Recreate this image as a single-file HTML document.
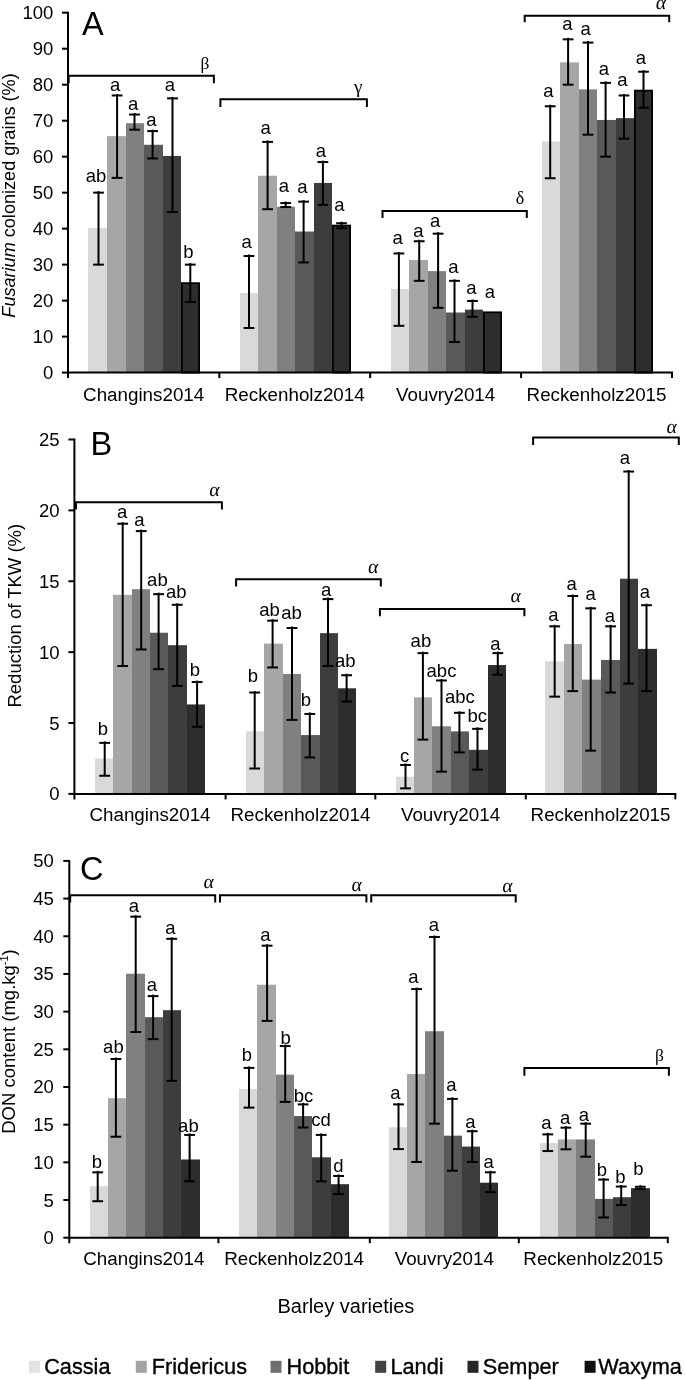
<!DOCTYPE html>
<html><head><meta charset="utf-8"><style>
html,body{margin:0;padding:0;background:#fff;}
svg{display:block;filter:grayscale(1);}
text{font-family:"Liberation Sans", sans-serif;fill:#000;}
</style></head><body>
<svg width="685" height="1380" viewBox="0 0 685 1380">
<rect width="685" height="1380" fill="#fff"/>
<rect x="88" y="227.92" width="19" height="144.68" fill="#d9d9d9"/>
<rect x="107" y="136.15" width="19" height="236.45" fill="#a6a6a6"/>
<rect x="126" y="123.19" width="18" height="249.41" fill="#808080"/>
<rect x="144" y="144.78" width="19" height="227.82" fill="#595959"/>
<rect x="163" y="155.94" width="18" height="216.66" fill="#3d3d3d"/>
<rect x="181.90" y="283.17" width="17.20" height="89.43" fill="#2d2d2d" stroke="#000" stroke-width="1.8"/>
<rect x="240" y="293.06" width="18" height="79.54" fill="#d9d9d9"/>
<rect x="258" y="175.73" width="19" height="196.87" fill="#a6a6a6"/>
<rect x="277" y="206.69" width="18" height="165.91" fill="#808080"/>
<rect x="295" y="231.52" width="19" height="141.08" fill="#595959"/>
<rect x="314" y="182.93" width="18" height="189.67" fill="#3d3d3d"/>
<rect x="332.90" y="225.58" width="17.20" height="147.02" fill="#2d2d2d" stroke="#000" stroke-width="1.8"/>
<rect x="391" y="289.10" width="18" height="83.50" fill="#d9d9d9"/>
<rect x="409" y="259.95" width="19" height="112.65" fill="#a6a6a6"/>
<rect x="428" y="271.11" width="18" height="101.49" fill="#808080"/>
<rect x="446" y="312.50" width="19" height="60.10" fill="#595959"/>
<rect x="465" y="309.62" width="18" height="62.98" fill="#3d3d3d"/>
<rect x="483.90" y="312.32" width="17.20" height="60.28" fill="#2d2d2d" stroke="#000" stroke-width="1.8"/>
<rect x="542" y="141.54" width="18" height="231.06" fill="#d9d9d9"/>
<rect x="560" y="62.37" width="19" height="310.23" fill="#a6a6a6"/>
<rect x="579" y="89.36" width="18" height="283.24" fill="#808080"/>
<rect x="597" y="119.95" width="19" height="252.65" fill="#595959"/>
<rect x="616" y="118.15" width="18" height="254.45" fill="#3d3d3d"/>
<rect x="634.90" y="90.62" width="17.20" height="281.98" fill="#2d2d2d" stroke="#000" stroke-width="1.8"/>
<line x1="98.50" y1="191.15" x2="98.50" y2="264.63" stroke="#000" stroke-width="2.0"/>
<line x1="93.10" y1="192.65" x2="103.90" y2="192.65" stroke="#000" stroke-width="2.0"/>
<line x1="93.10" y1="264.63" x2="103.90" y2="264.63" stroke="#000" stroke-width="2.0"/>
<line x1="117.10" y1="93.98" x2="117.10" y2="177.89" stroke="#000" stroke-width="2.0"/>
<line x1="111.70" y1="95.48" x2="122.50" y2="95.48" stroke="#000" stroke-width="2.0"/>
<line x1="111.70" y1="177.89" x2="122.50" y2="177.89" stroke="#000" stroke-width="2.0"/>
<line x1="134.50" y1="113.05" x2="134.50" y2="129.67" stroke="#000" stroke-width="2.0"/>
<line x1="129.10" y1="114.55" x2="139.90" y2="114.55" stroke="#000" stroke-width="2.0"/>
<line x1="129.10" y1="129.67" x2="139.90" y2="129.67" stroke="#000" stroke-width="2.0"/>
<line x1="152.60" y1="129.61" x2="152.60" y2="158.46" stroke="#000" stroke-width="2.0"/>
<line x1="147.20" y1="131.11" x2="158.00" y2="131.11" stroke="#000" stroke-width="2.0"/>
<line x1="147.20" y1="158.46" x2="158.00" y2="158.46" stroke="#000" stroke-width="2.0"/>
<line x1="172.50" y1="96.86" x2="172.50" y2="212.08" stroke="#000" stroke-width="2.0"/>
<line x1="167.10" y1="98.36" x2="177.90" y2="98.36" stroke="#000" stroke-width="2.0"/>
<line x1="167.10" y1="212.08" x2="177.90" y2="212.08" stroke="#000" stroke-width="2.0"/>
<line x1="190.30" y1="263.13" x2="190.30" y2="302.06" stroke="#000" stroke-width="2.0"/>
<line x1="184.90" y1="264.63" x2="195.70" y2="264.63" stroke="#000" stroke-width="2.0"/>
<line x1="184.90" y1="302.06" x2="195.70" y2="302.06" stroke="#000" stroke-width="2.0"/>
<line x1="249.00" y1="254.49" x2="249.00" y2="327.97" stroke="#000" stroke-width="2.0"/>
<line x1="243.60" y1="255.99" x2="254.40" y2="255.99" stroke="#000" stroke-width="2.0"/>
<line x1="243.60" y1="327.97" x2="254.40" y2="327.97" stroke="#000" stroke-width="2.0"/>
<line x1="267.60" y1="140.40" x2="267.60" y2="209.21" stroke="#000" stroke-width="2.0"/>
<line x1="262.20" y1="141.90" x2="273.00" y2="141.90" stroke="#000" stroke-width="2.0"/>
<line x1="262.20" y1="209.21" x2="273.00" y2="209.21" stroke="#000" stroke-width="2.0"/>
<line x1="285.70" y1="201.59" x2="285.70" y2="207.05" stroke="#000" stroke-width="2.0"/>
<line x1="280.30" y1="203.09" x2="291.10" y2="203.09" stroke="#000" stroke-width="2.0"/>
<line x1="280.30" y1="207.05" x2="291.10" y2="207.05" stroke="#000" stroke-width="2.0"/>
<line x1="303.60" y1="200.15" x2="303.60" y2="262.47" stroke="#000" stroke-width="2.0"/>
<line x1="298.20" y1="201.65" x2="309.00" y2="201.65" stroke="#000" stroke-width="2.0"/>
<line x1="298.20" y1="262.47" x2="309.00" y2="262.47" stroke="#000" stroke-width="2.0"/>
<line x1="322.90" y1="160.56" x2="322.90" y2="204.89" stroke="#000" stroke-width="2.0"/>
<line x1="317.50" y1="162.06" x2="328.30" y2="162.06" stroke="#000" stroke-width="2.0"/>
<line x1="317.50" y1="204.89" x2="328.30" y2="204.89" stroke="#000" stroke-width="2.0"/>
<line x1="341.50" y1="221.74" x2="341.50" y2="228.28" stroke="#000" stroke-width="2.0"/>
<line x1="336.10" y1="223.24" x2="346.90" y2="223.24" stroke="#000" stroke-width="2.0"/>
<line x1="336.10" y1="228.28" x2="346.90" y2="228.28" stroke="#000" stroke-width="2.0"/>
<line x1="398.90" y1="251.97" x2="398.90" y2="325.81" stroke="#000" stroke-width="2.0"/>
<line x1="393.50" y1="253.47" x2="404.30" y2="253.47" stroke="#000" stroke-width="2.0"/>
<line x1="393.50" y1="325.81" x2="404.30" y2="325.81" stroke="#000" stroke-width="2.0"/>
<line x1="419.20" y1="239.74" x2="419.20" y2="280.83" stroke="#000" stroke-width="2.0"/>
<line x1="413.80" y1="241.24" x2="424.60" y2="241.24" stroke="#000" stroke-width="2.0"/>
<line x1="413.80" y1="280.83" x2="424.60" y2="280.83" stroke="#000" stroke-width="2.0"/>
<line x1="438.10" y1="232.18" x2="438.10" y2="307.82" stroke="#000" stroke-width="2.0"/>
<line x1="432.70" y1="233.68" x2="443.50" y2="233.68" stroke="#000" stroke-width="2.0"/>
<line x1="432.70" y1="307.82" x2="443.50" y2="307.82" stroke="#000" stroke-width="2.0"/>
<line x1="454.50" y1="279.33" x2="454.50" y2="342.01" stroke="#000" stroke-width="2.0"/>
<line x1="449.10" y1="280.83" x2="459.90" y2="280.83" stroke="#000" stroke-width="2.0"/>
<line x1="449.10" y1="342.01" x2="459.90" y2="342.01" stroke="#000" stroke-width="2.0"/>
<line x1="472.50" y1="299.48" x2="472.50" y2="316.82" stroke="#000" stroke-width="2.0"/>
<line x1="467.10" y1="300.98" x2="477.90" y2="300.98" stroke="#000" stroke-width="2.0"/>
<line x1="467.10" y1="316.82" x2="477.90" y2="316.82" stroke="#000" stroke-width="2.0"/>
<line x1="550.20" y1="104.77" x2="550.20" y2="178.25" stroke="#000" stroke-width="2.0"/>
<line x1="544.80" y1="106.27" x2="555.60" y2="106.27" stroke="#000" stroke-width="2.0"/>
<line x1="544.80" y1="178.25" x2="555.60" y2="178.25" stroke="#000" stroke-width="2.0"/>
<line x1="568.10" y1="37.83" x2="568.10" y2="84.68" stroke="#000" stroke-width="2.0"/>
<line x1="562.70" y1="39.33" x2="573.50" y2="39.33" stroke="#000" stroke-width="2.0"/>
<line x1="562.70" y1="84.68" x2="573.50" y2="84.68" stroke="#000" stroke-width="2.0"/>
<line x1="588.00" y1="41.07" x2="588.00" y2="134.71" stroke="#000" stroke-width="2.0"/>
<line x1="582.60" y1="42.57" x2="593.40" y2="42.57" stroke="#000" stroke-width="2.0"/>
<line x1="582.60" y1="134.71" x2="593.40" y2="134.71" stroke="#000" stroke-width="2.0"/>
<line x1="605.60" y1="81.38" x2="605.60" y2="156.66" stroke="#000" stroke-width="2.0"/>
<line x1="600.20" y1="82.88" x2="611.00" y2="82.88" stroke="#000" stroke-width="2.0"/>
<line x1="600.20" y1="156.66" x2="611.00" y2="156.66" stroke="#000" stroke-width="2.0"/>
<line x1="624.00" y1="93.98" x2="624.00" y2="138.67" stroke="#000" stroke-width="2.0"/>
<line x1="618.60" y1="95.48" x2="629.40" y2="95.48" stroke="#000" stroke-width="2.0"/>
<line x1="618.60" y1="138.67" x2="629.40" y2="138.67" stroke="#000" stroke-width="2.0"/>
<line x1="643.50" y1="70.22" x2="643.50" y2="107.71" stroke="#000" stroke-width="2.0"/>
<line x1="638.10" y1="71.72" x2="648.90" y2="71.72" stroke="#000" stroke-width="2.0"/>
<line x1="638.10" y1="107.71" x2="648.90" y2="107.71" stroke="#000" stroke-width="2.0"/>
<text x="96.00" y="182.00" font-size="18.5" text-anchor="middle" >ab</text>
<text x="115.10" y="90.80" font-size="18.5" text-anchor="middle" >a</text>
<text x="133.20" y="109.50" font-size="18.5" text-anchor="middle" >a</text>
<text x="151.30" y="125.60" font-size="18.5" text-anchor="middle" >a</text>
<text x="170.00" y="90.80" font-size="18.5" text-anchor="middle" >a</text>
<text x="188.40" y="257.80" font-size="18.5" text-anchor="middle" >b</text>
<text x="246.70" y="248.00" font-size="18.5" text-anchor="middle" >a</text>
<text x="265.60" y="134.40" font-size="18.5" text-anchor="middle" >a</text>
<text x="284.00" y="192.00" font-size="18.5" text-anchor="middle" >a</text>
<text x="302.30" y="193.30" font-size="18.5" text-anchor="middle" >a</text>
<text x="320.90" y="156.80" font-size="18.5" text-anchor="middle" >a</text>
<text x="339.30" y="211.40" font-size="18.5" text-anchor="middle" >a</text>
<text x="397.70" y="243.70" font-size="18.5" text-anchor="middle" >a</text>
<text x="418.30" y="237.40" font-size="18.5" text-anchor="middle" >a</text>
<text x="435.10" y="227.40" font-size="18.5" text-anchor="middle" >a</text>
<text x="453.30" y="272.90" font-size="18.5" text-anchor="middle" >a</text>
<text x="471.30" y="294.40" font-size="18.5" text-anchor="middle" >a</text>
<text x="490.00" y="297.90" font-size="18.5" text-anchor="middle" >a</text>
<text x="548.40" y="97.30" font-size="18.5" text-anchor="middle" >a</text>
<text x="567.30" y="30.30" font-size="18.5" text-anchor="middle" >a</text>
<text x="585.70" y="35.00" font-size="18.5" text-anchor="middle" >a</text>
<text x="604.00" y="75.20" font-size="18.5" text-anchor="middle" >a</text>
<text x="622.40" y="86.30" font-size="18.5" text-anchor="middle" >a</text>
<text x="640.80" y="63.90" font-size="18.5" text-anchor="middle" >a</text>
<line x1="68.00" y1="11.70" x2="68.00" y2="378.10" stroke="#000" stroke-width="2.0"/>
<line x1="67.00" y1="372.60" x2="673.00" y2="372.60" stroke="#000" stroke-width="2.0"/>
<line x1="219.30" y1="372.60" x2="219.30" y2="378.10" stroke="#000" stroke-width="2.0"/>
<line x1="370.20" y1="372.60" x2="370.20" y2="378.10" stroke="#000" stroke-width="2.0"/>
<line x1="521.10" y1="372.60" x2="521.10" y2="378.10" stroke="#000" stroke-width="2.0"/>
<line x1="672.00" y1="372.60" x2="672.00" y2="378.10" stroke="#000" stroke-width="2.0"/>
<line x1="62.00" y1="372.60" x2="68.00" y2="372.60" stroke="#000" stroke-width="2.0"/>
<text x="53.30" y="379.10" font-size="18.5" text-anchor="end" >0</text>
<line x1="62.00" y1="336.61" x2="68.00" y2="336.61" stroke="#000" stroke-width="2.0"/>
<text x="53.30" y="343.11" font-size="18.5" text-anchor="end" >10</text>
<line x1="62.00" y1="300.62" x2="68.00" y2="300.62" stroke="#000" stroke-width="2.0"/>
<text x="53.30" y="307.12" font-size="18.5" text-anchor="end" >20</text>
<line x1="62.00" y1="264.63" x2="68.00" y2="264.63" stroke="#000" stroke-width="2.0"/>
<text x="53.30" y="271.13" font-size="18.5" text-anchor="end" >30</text>
<line x1="62.00" y1="228.64" x2="68.00" y2="228.64" stroke="#000" stroke-width="2.0"/>
<text x="53.30" y="235.14" font-size="18.5" text-anchor="end" >40</text>
<line x1="62.00" y1="192.65" x2="68.00" y2="192.65" stroke="#000" stroke-width="2.0"/>
<text x="53.30" y="199.15" font-size="18.5" text-anchor="end" >50</text>
<line x1="62.00" y1="156.66" x2="68.00" y2="156.66" stroke="#000" stroke-width="2.0"/>
<text x="53.30" y="163.16" font-size="18.5" text-anchor="end" >60</text>
<line x1="62.00" y1="120.67" x2="68.00" y2="120.67" stroke="#000" stroke-width="2.0"/>
<text x="53.30" y="127.17" font-size="18.5" text-anchor="end" >70</text>
<line x1="62.00" y1="84.68" x2="68.00" y2="84.68" stroke="#000" stroke-width="2.0"/>
<text x="53.30" y="91.18" font-size="18.5" text-anchor="end" >80</text>
<line x1="62.00" y1="48.69" x2="68.00" y2="48.69" stroke="#000" stroke-width="2.0"/>
<text x="53.30" y="55.19" font-size="18.5" text-anchor="end" >90</text>
<line x1="62.00" y1="12.70" x2="68.00" y2="12.70" stroke="#000" stroke-width="2.0"/>
<text x="53.30" y="19.20" font-size="18.5" text-anchor="end" >100</text>
<text x="143.65" y="400.80" font-size="18.8" text-anchor="middle" >Changins2014</text>
<text x="294.75" y="400.80" font-size="18.8" text-anchor="middle" >Reckenholz2014</text>
<text x="445.65" y="400.80" font-size="18.8" text-anchor="middle" >Vouvry2014</text>
<text x="596.55" y="400.80" font-size="18.8" text-anchor="middle" >Reckenholz2015</text>
<path d="M68.70,83.30 V75.80 H213.90 V83.30" fill="none" stroke="#000" stroke-width="2"/>
<g transform="translate(205.00,69.00) skewX(0)"><text x="0" y="0" font-size="17.5" text-anchor="middle" style='font-family:"Liberation Serif", serif'>β</text></g>
<path d="M220.40,107.00 V99.20 H366.90 V107.00" fill="none" stroke="#000" stroke-width="2"/>
<g transform="translate(358.20,93.40) skewX(0)"><text x="0" y="0" font-size="19" text-anchor="middle" style='font-family:"Liberation Serif", serif'>γ</text></g>
<path d="M382.50,218.10 V210.90 H526.80 V218.10" fill="none" stroke="#000" stroke-width="2"/>
<g transform="translate(520.10,204.20) skewX(0)"><text x="0" y="0" font-size="18" text-anchor="middle" style='font-family:"Liberation Serif", serif'>δ</text></g>
<path d="M524.70,22.30 V15.80 H669.20 V22.30" fill="none" stroke="#000" stroke-width="2"/>
<g transform="translate(660.40,9.00) skewX(-7)"><text x="0" y="0" font-size="19.5" text-anchor="middle" style='font-family:"Liberation Serif", serif'>α</text></g>
<text x="82.00" y="35.00" font-size="32.5" text-anchor="start" >A</text>
<rect x="95" y="758.60" width="18" height="35.30" fill="#d9d9d9"/>
<rect x="113" y="594.87" width="19" height="199.03" fill="#a6a6a6"/>
<rect x="132" y="589.20" width="18" height="204.70" fill="#808080"/>
<rect x="150" y="632.72" width="18" height="161.18" fill="#595959"/>
<rect x="168" y="645.19" width="19" height="148.71" fill="#3d3d3d"/>
<rect x="187" y="704.45" width="18" height="89.45" fill="#2d2d2d"/>
<rect x="246" y="731.24" width="18" height="62.66" fill="#d9d9d9"/>
<rect x="264" y="643.63" width="19" height="150.27" fill="#a6a6a6"/>
<rect x="283" y="673.97" width="18" height="119.93" fill="#808080"/>
<rect x="301" y="735.07" width="19" height="58.83" fill="#595959"/>
<rect x="320" y="633.14" width="18" height="160.76" fill="#3d3d3d"/>
<rect x="338" y="688.29" width="18" height="105.61" fill="#2d2d2d"/>
<rect x="396" y="776.75" width="18" height="17.15" fill="#d9d9d9"/>
<rect x="414" y="697.36" width="18" height="96.54" fill="#a6a6a6"/>
<rect x="432" y="726.28" width="19" height="67.62" fill="#808080"/>
<rect x="451" y="731.38" width="18" height="62.52" fill="#595959"/>
<rect x="469" y="749.81" width="19" height="44.09" fill="#3d3d3d"/>
<rect x="488" y="665.04" width="18" height="128.86" fill="#2d2d2d"/>
<rect x="545" y="661.35" width="19" height="132.55" fill="#d9d9d9"/>
<rect x="564" y="643.92" width="18" height="149.98" fill="#a6a6a6"/>
<rect x="582" y="679.64" width="19" height="114.26" fill="#808080"/>
<rect x="601" y="659.94" width="19" height="133.96" fill="#595959"/>
<rect x="620" y="578.71" width="18" height="215.19" fill="#3d3d3d"/>
<rect x="638" y="648.88" width="19" height="145.02" fill="#2d2d2d"/>
<line x1="104.70" y1="741.37" x2="104.70" y2="775.75" stroke="#000" stroke-width="2.0"/>
<line x1="99.30" y1="742.87" x2="110.10" y2="742.87" stroke="#000" stroke-width="2.0"/>
<line x1="99.30" y1="775.75" x2="110.10" y2="775.75" stroke="#000" stroke-width="2.0"/>
<line x1="122.70" y1="522.21" x2="122.70" y2="666.03" stroke="#000" stroke-width="2.0"/>
<line x1="117.30" y1="523.71" x2="128.10" y2="523.71" stroke="#000" stroke-width="2.0"/>
<line x1="117.30" y1="666.03" x2="128.10" y2="666.03" stroke="#000" stroke-width="2.0"/>
<line x1="141.20" y1="529.58" x2="141.20" y2="649.45" stroke="#000" stroke-width="2.0"/>
<line x1="135.80" y1="531.08" x2="146.60" y2="531.08" stroke="#000" stroke-width="2.0"/>
<line x1="135.80" y1="649.45" x2="146.60" y2="649.45" stroke="#000" stroke-width="2.0"/>
<line x1="158.60" y1="592.66" x2="158.60" y2="669.15" stroke="#000" stroke-width="2.0"/>
<line x1="153.20" y1="594.16" x2="164.00" y2="594.16" stroke="#000" stroke-width="2.0"/>
<line x1="153.20" y1="669.15" x2="164.00" y2="669.15" stroke="#000" stroke-width="2.0"/>
<line x1="177.20" y1="603.29" x2="177.20" y2="685.88" stroke="#000" stroke-width="2.0"/>
<line x1="171.80" y1="604.79" x2="182.60" y2="604.79" stroke="#000" stroke-width="2.0"/>
<line x1="171.80" y1="685.88" x2="182.60" y2="685.88" stroke="#000" stroke-width="2.0"/>
<line x1="197.10" y1="680.55" x2="197.10" y2="726.85" stroke="#000" stroke-width="2.0"/>
<line x1="191.70" y1="682.05" x2="202.50" y2="682.05" stroke="#000" stroke-width="2.0"/>
<line x1="191.70" y1="726.85" x2="202.50" y2="726.85" stroke="#000" stroke-width="2.0"/>
<line x1="254.70" y1="691.04" x2="254.70" y2="768.52" stroke="#000" stroke-width="2.0"/>
<line x1="249.30" y1="692.54" x2="260.10" y2="692.54" stroke="#000" stroke-width="2.0"/>
<line x1="249.30" y1="768.52" x2="260.10" y2="768.52" stroke="#000" stroke-width="2.0"/>
<line x1="272.60" y1="619.17" x2="272.60" y2="667.45" stroke="#000" stroke-width="2.0"/>
<line x1="267.20" y1="620.67" x2="278.00" y2="620.67" stroke="#000" stroke-width="2.0"/>
<line x1="267.20" y1="667.45" x2="278.00" y2="667.45" stroke="#000" stroke-width="2.0"/>
<line x1="292.00" y1="626.54" x2="292.00" y2="719.90" stroke="#000" stroke-width="2.0"/>
<line x1="286.60" y1="628.04" x2="297.40" y2="628.04" stroke="#000" stroke-width="2.0"/>
<line x1="286.60" y1="719.90" x2="297.40" y2="719.90" stroke="#000" stroke-width="2.0"/>
<line x1="309.80" y1="712.45" x2="309.80" y2="757.47" stroke="#000" stroke-width="2.0"/>
<line x1="304.40" y1="713.95" x2="315.20" y2="713.95" stroke="#000" stroke-width="2.0"/>
<line x1="304.40" y1="757.47" x2="315.20" y2="757.47" stroke="#000" stroke-width="2.0"/>
<line x1="328.00" y1="597.62" x2="328.00" y2="666.03" stroke="#000" stroke-width="2.0"/>
<line x1="322.60" y1="599.12" x2="333.40" y2="599.12" stroke="#000" stroke-width="2.0"/>
<line x1="322.60" y1="666.03" x2="333.40" y2="666.03" stroke="#000" stroke-width="2.0"/>
<line x1="346.60" y1="673.75" x2="346.60" y2="701.61" stroke="#000" stroke-width="2.0"/>
<line x1="341.20" y1="675.25" x2="352.00" y2="675.25" stroke="#000" stroke-width="2.0"/>
<line x1="341.20" y1="701.61" x2="352.00" y2="701.61" stroke="#000" stroke-width="2.0"/>
<line x1="405.50" y1="763.48" x2="405.50" y2="788.37" stroke="#000" stroke-width="2.0"/>
<line x1="400.10" y1="764.98" x2="410.90" y2="764.98" stroke="#000" stroke-width="2.0"/>
<line x1="400.10" y1="788.37" x2="410.90" y2="788.37" stroke="#000" stroke-width="2.0"/>
<line x1="422.90" y1="651.63" x2="422.90" y2="739.61" stroke="#000" stroke-width="2.0"/>
<line x1="417.50" y1="653.13" x2="428.30" y2="653.13" stroke="#000" stroke-width="2.0"/>
<line x1="417.50" y1="739.61" x2="428.30" y2="739.61" stroke="#000" stroke-width="2.0"/>
<line x1="441.50" y1="678.99" x2="441.50" y2="771.64" stroke="#000" stroke-width="2.0"/>
<line x1="436.10" y1="680.49" x2="446.90" y2="680.49" stroke="#000" stroke-width="2.0"/>
<line x1="436.10" y1="771.64" x2="446.90" y2="771.64" stroke="#000" stroke-width="2.0"/>
<line x1="459.40" y1="711.31" x2="459.40" y2="752.36" stroke="#000" stroke-width="2.0"/>
<line x1="454.00" y1="712.81" x2="464.80" y2="712.81" stroke="#000" stroke-width="2.0"/>
<line x1="454.00" y1="752.36" x2="464.80" y2="752.36" stroke="#000" stroke-width="2.0"/>
<line x1="477.50" y1="727.33" x2="477.50" y2="769.66" stroke="#000" stroke-width="2.0"/>
<line x1="472.10" y1="728.83" x2="482.90" y2="728.83" stroke="#000" stroke-width="2.0"/>
<line x1="472.10" y1="769.66" x2="482.90" y2="769.66" stroke="#000" stroke-width="2.0"/>
<line x1="497.80" y1="651.63" x2="497.80" y2="674.68" stroke="#000" stroke-width="2.0"/>
<line x1="492.40" y1="653.13" x2="503.20" y2="653.13" stroke="#000" stroke-width="2.0"/>
<line x1="492.40" y1="674.68" x2="503.20" y2="674.68" stroke="#000" stroke-width="2.0"/>
<line x1="554.70" y1="624.84" x2="554.70" y2="696.65" stroke="#000" stroke-width="2.0"/>
<line x1="549.30" y1="626.34" x2="560.10" y2="626.34" stroke="#000" stroke-width="2.0"/>
<line x1="549.30" y1="696.65" x2="560.10" y2="696.65" stroke="#000" stroke-width="2.0"/>
<line x1="572.80" y1="594.50" x2="572.80" y2="691.12" stroke="#000" stroke-width="2.0"/>
<line x1="567.40" y1="596.00" x2="578.20" y2="596.00" stroke="#000" stroke-width="2.0"/>
<line x1="567.40" y1="691.12" x2="578.20" y2="691.12" stroke="#000" stroke-width="2.0"/>
<line x1="590.70" y1="606.84" x2="590.70" y2="750.66" stroke="#000" stroke-width="2.0"/>
<line x1="585.30" y1="608.34" x2="596.10" y2="608.34" stroke="#000" stroke-width="2.0"/>
<line x1="585.30" y1="750.66" x2="596.10" y2="750.66" stroke="#000" stroke-width="2.0"/>
<line x1="610.60" y1="624.84" x2="610.60" y2="692.54" stroke="#000" stroke-width="2.0"/>
<line x1="605.20" y1="626.34" x2="616.00" y2="626.34" stroke="#000" stroke-width="2.0"/>
<line x1="605.20" y1="692.54" x2="616.00" y2="692.54" stroke="#000" stroke-width="2.0"/>
<line x1="628.70" y1="470.04" x2="628.70" y2="683.61" stroke="#000" stroke-width="2.0"/>
<line x1="623.30" y1="471.54" x2="634.10" y2="471.54" stroke="#000" stroke-width="2.0"/>
<line x1="623.30" y1="683.61" x2="634.10" y2="683.61" stroke="#000" stroke-width="2.0"/>
<line x1="646.50" y1="603.72" x2="646.50" y2="691.12" stroke="#000" stroke-width="2.0"/>
<line x1="641.10" y1="605.22" x2="651.90" y2="605.22" stroke="#000" stroke-width="2.0"/>
<line x1="641.10" y1="691.12" x2="651.90" y2="691.12" stroke="#000" stroke-width="2.0"/>
<text x="103.00" y="734.60" font-size="18.5" text-anchor="middle" >b</text>
<text x="122.10" y="518.30" font-size="18.5" text-anchor="middle" >a</text>
<text x="139.50" y="525.80" font-size="18.5" text-anchor="middle" >a</text>
<text x="157.40" y="585.80" font-size="18.5" text-anchor="middle" >ab</text>
<text x="176.20" y="597.50" font-size="18.5" text-anchor="middle" >ab</text>
<text x="194.80" y="676.30" font-size="18.5" text-anchor="middle" >b</text>
<text x="253.00" y="682.30" font-size="18.5" text-anchor="middle" >b</text>
<text x="269.60" y="616.00" font-size="18.5" text-anchor="middle" >ab</text>
<text x="291.50" y="618.50" font-size="18.5" text-anchor="middle" >ab</text>
<text x="306.00" y="706.40" font-size="18.5" text-anchor="middle" >b</text>
<text x="326.20" y="595.70" font-size="18.5" text-anchor="middle" >a</text>
<text x="345.30" y="666.90" font-size="18.5" text-anchor="middle" >ab</text>
<text x="404.70" y="762.30" font-size="18.5" text-anchor="middle" >c</text>
<text x="420.90" y="647.30" font-size="18.5" text-anchor="middle" >ab</text>
<text x="441.50" y="676.60" font-size="18.5" text-anchor="middle" >abc</text>
<text x="459.80" y="703.20" font-size="18.5" text-anchor="middle" >abc</text>
<text x="477.20" y="721.80" font-size="18.5" text-anchor="middle" >bc</text>
<text x="495.30" y="649.80" font-size="18.5" text-anchor="middle" >a</text>
<text x="553.50" y="620.60" font-size="18.5" text-anchor="middle" >a</text>
<text x="571.60" y="589.60" font-size="18.5" text-anchor="middle" >a</text>
<text x="590.70" y="599.50" font-size="18.5" text-anchor="middle" >a</text>
<text x="609.80" y="622.40" font-size="18.5" text-anchor="middle" >a</text>
<text x="625.00" y="463.80" font-size="18.5" text-anchor="middle" >a</text>
<text x="644.80" y="598.30" font-size="18.5" text-anchor="middle" >a</text>
<line x1="74.40" y1="438.50" x2="74.40" y2="799.40" stroke="#000" stroke-width="2.0"/>
<line x1="73.40" y1="793.90" x2="676.30" y2="793.90" stroke="#000" stroke-width="2.0"/>
<line x1="225.60" y1="793.90" x2="225.60" y2="799.40" stroke="#000" stroke-width="2.0"/>
<line x1="375.30" y1="793.90" x2="375.30" y2="799.40" stroke="#000" stroke-width="2.0"/>
<line x1="525.80" y1="793.90" x2="525.80" y2="799.40" stroke="#000" stroke-width="2.0"/>
<line x1="675.30" y1="793.90" x2="675.30" y2="799.40" stroke="#000" stroke-width="2.0"/>
<line x1="68.40" y1="793.90" x2="74.40" y2="793.90" stroke="#000" stroke-width="2.0"/>
<text x="59.60" y="800.40" font-size="18.5" text-anchor="end" >0</text>
<line x1="68.40" y1="723.02" x2="74.40" y2="723.02" stroke="#000" stroke-width="2.0"/>
<text x="59.60" y="729.52" font-size="18.5" text-anchor="end" >5</text>
<line x1="68.40" y1="652.14" x2="74.40" y2="652.14" stroke="#000" stroke-width="2.0"/>
<text x="59.60" y="658.64" font-size="18.5" text-anchor="end" >10</text>
<line x1="68.40" y1="581.26" x2="74.40" y2="581.26" stroke="#000" stroke-width="2.0"/>
<text x="59.60" y="587.76" font-size="18.5" text-anchor="end" >15</text>
<line x1="68.40" y1="510.38" x2="74.40" y2="510.38" stroke="#000" stroke-width="2.0"/>
<text x="59.60" y="516.88" font-size="18.5" text-anchor="end" >20</text>
<line x1="68.40" y1="439.50" x2="74.40" y2="439.50" stroke="#000" stroke-width="2.0"/>
<text x="59.60" y="446.00" font-size="18.5" text-anchor="end" >25</text>
<text x="150.00" y="821.00" font-size="18.8" text-anchor="middle" >Changins2014</text>
<text x="300.45" y="821.00" font-size="18.8" text-anchor="middle" >Reckenholz2014</text>
<text x="450.55" y="821.00" font-size="18.8" text-anchor="middle" >Vouvry2014</text>
<text x="600.55" y="821.00" font-size="18.8" text-anchor="middle" >Reckenholz2015</text>
<path d="M76.00,509.50 V502.30 H221.90 V509.50" fill="none" stroke="#000" stroke-width="2"/>
<g transform="translate(213.90,495.70) skewX(-7)"><text x="0" y="0" font-size="19.5" text-anchor="middle" style='font-family:"Liberation Serif", serif'>α</text></g>
<path d="M236.10,586.40 V579.20 H380.80 V586.40" fill="none" stroke="#000" stroke-width="2"/>
<g transform="translate(372.60,573.00) skewX(-7)"><text x="0" y="0" font-size="19.5" text-anchor="middle" style='font-family:"Liberation Serif", serif'>α</text></g>
<path d="M379.90,616.20 V609.00 H524.40 V616.20" fill="none" stroke="#000" stroke-width="2"/>
<g transform="translate(515.10,602.40) skewX(-7)"><text x="0" y="0" font-size="19.5" text-anchor="middle" style='font-family:"Liberation Serif", serif'>α</text></g>
<path d="M533.10,445.10 V437.40 H678.80 V445.10" fill="none" stroke="#000" stroke-width="2"/>
<g transform="translate(671.10,433.20) skewX(-7)"><text x="0" y="0" font-size="19.5" text-anchor="middle" style='font-family:"Liberation Serif", serif'>α</text></g>
<text x="90.50" y="454.60" font-size="32.5" text-anchor="start" >B</text>
<rect x="90" y="1186.08" width="18" height="51.62" fill="#d9d9d9"/>
<rect x="108" y="1098.21" width="18" height="139.49" fill="#a6a6a6"/>
<rect x="126" y="973.71" width="19" height="263.99" fill="#808080"/>
<rect x="145" y="1017.20" width="18" height="220.50" fill="#595959"/>
<rect x="163" y="1010.19" width="18" height="227.51" fill="#3d3d3d"/>
<rect x="181" y="1159.48" width="19" height="78.22" fill="#2d2d2d"/>
<rect x="239" y="1089.01" width="18" height="148.69" fill="#d9d9d9"/>
<rect x="257" y="984.72" width="19" height="252.98" fill="#a6a6a6"/>
<rect x="276" y="1074.62" width="18" height="163.08" fill="#808080"/>
<rect x="294" y="1116.07" width="18" height="121.63" fill="#595959"/>
<rect x="312" y="1157.29" width="19" height="80.41" fill="#3d3d3d"/>
<rect x="331" y="1184.19" width="18" height="53.51" fill="#2d2d2d"/>
<rect x="389" y="1127.22" width="18" height="110.48" fill="#d9d9d9"/>
<rect x="407" y="1074.09" width="18" height="163.61" fill="#a6a6a6"/>
<rect x="425" y="1031.21" width="19" height="206.49" fill="#808080"/>
<rect x="444" y="1135.66" width="18" height="102.04" fill="#595959"/>
<rect x="462" y="1146.59" width="18" height="91.11" fill="#3d3d3d"/>
<rect x="480" y="1182.69" width="18" height="55.01" fill="#2d2d2d"/>
<rect x="540" y="1143.12" width="18" height="94.58" fill="#d9d9d9"/>
<rect x="558" y="1139.43" width="18" height="98.27" fill="#a6a6a6"/>
<rect x="576" y="1139.43" width="19" height="98.27" fill="#808080"/>
<rect x="595" y="1198.89" width="18" height="38.81" fill="#595959"/>
<rect x="613" y="1197.23" width="18" height="40.47" fill="#3d3d3d"/>
<rect x="631" y="1188.19" width="19" height="49.51" fill="#2d2d2d"/>
<line x1="97.70" y1="1170.86" x2="97.70" y2="1201.23" stroke="#000" stroke-width="2.0"/>
<line x1="92.30" y1="1172.36" x2="103.10" y2="1172.36" stroke="#000" stroke-width="2.0"/>
<line x1="92.30" y1="1201.23" x2="103.10" y2="1201.23" stroke="#000" stroke-width="2.0"/>
<line x1="115.90" y1="1057.52" x2="115.90" y2="1136.72" stroke="#000" stroke-width="2.0"/>
<line x1="110.50" y1="1059.02" x2="121.30" y2="1059.02" stroke="#000" stroke-width="2.0"/>
<line x1="110.50" y1="1136.72" x2="121.30" y2="1136.72" stroke="#000" stroke-width="2.0"/>
<line x1="135.70" y1="915.17" x2="135.70" y2="1031.97" stroke="#000" stroke-width="2.0"/>
<line x1="130.30" y1="916.67" x2="141.10" y2="916.67" stroke="#000" stroke-width="2.0"/>
<line x1="130.30" y1="1031.97" x2="141.10" y2="1031.97" stroke="#000" stroke-width="2.0"/>
<line x1="153.10" y1="994.60" x2="153.10" y2="1039.13" stroke="#000" stroke-width="2.0"/>
<line x1="147.70" y1="996.10" x2="158.50" y2="996.10" stroke="#000" stroke-width="2.0"/>
<line x1="147.70" y1="1039.13" x2="158.50" y2="1039.13" stroke="#000" stroke-width="2.0"/>
<line x1="171.70" y1="937.32" x2="171.70" y2="1080.80" stroke="#000" stroke-width="2.0"/>
<line x1="166.30" y1="938.82" x2="177.10" y2="938.82" stroke="#000" stroke-width="2.0"/>
<line x1="166.30" y1="1080.80" x2="177.10" y2="1080.80" stroke="#000" stroke-width="2.0"/>
<line x1="189.60" y1="1133.41" x2="189.60" y2="1181.33" stroke="#000" stroke-width="2.0"/>
<line x1="184.20" y1="1134.91" x2="195.00" y2="1134.91" stroke="#000" stroke-width="2.0"/>
<line x1="184.20" y1="1181.33" x2="195.00" y2="1181.33" stroke="#000" stroke-width="2.0"/>
<line x1="249.00" y1="1066.41" x2="249.00" y2="1107.63" stroke="#000" stroke-width="2.0"/>
<line x1="243.60" y1="1067.91" x2="254.40" y2="1067.91" stroke="#000" stroke-width="2.0"/>
<line x1="243.60" y1="1107.63" x2="254.40" y2="1107.63" stroke="#000" stroke-width="2.0"/>
<line x1="267.10" y1="944.18" x2="267.10" y2="1020.89" stroke="#000" stroke-width="2.0"/>
<line x1="261.70" y1="945.68" x2="272.50" y2="945.68" stroke="#000" stroke-width="2.0"/>
<line x1="261.70" y1="1020.89" x2="272.50" y2="1020.89" stroke="#000" stroke-width="2.0"/>
<line x1="285.20" y1="1044.56" x2="285.20" y2="1101.90" stroke="#000" stroke-width="2.0"/>
<line x1="279.80" y1="1046.06" x2="290.60" y2="1046.06" stroke="#000" stroke-width="2.0"/>
<line x1="279.80" y1="1101.90" x2="290.60" y2="1101.90" stroke="#000" stroke-width="2.0"/>
<line x1="303.10" y1="1102.89" x2="303.10" y2="1127.52" stroke="#000" stroke-width="2.0"/>
<line x1="297.70" y1="1104.39" x2="308.50" y2="1104.39" stroke="#000" stroke-width="2.0"/>
<line x1="297.70" y1="1127.52" x2="308.50" y2="1127.52" stroke="#000" stroke-width="2.0"/>
<line x1="321.20" y1="1133.41" x2="321.20" y2="1181.33" stroke="#000" stroke-width="2.0"/>
<line x1="315.80" y1="1134.91" x2="326.60" y2="1134.91" stroke="#000" stroke-width="2.0"/>
<line x1="315.80" y1="1181.33" x2="326.60" y2="1181.33" stroke="#000" stroke-width="2.0"/>
<line x1="338.60" y1="1174.48" x2="338.60" y2="1194.07" stroke="#000" stroke-width="2.0"/>
<line x1="333.20" y1="1175.98" x2="344.00" y2="1175.98" stroke="#000" stroke-width="2.0"/>
<line x1="333.20" y1="1194.07" x2="344.00" y2="1194.07" stroke="#000" stroke-width="2.0"/>
<line x1="398.50" y1="1102.89" x2="398.50" y2="1149.08" stroke="#000" stroke-width="2.0"/>
<line x1="393.10" y1="1104.39" x2="403.90" y2="1104.39" stroke="#000" stroke-width="2.0"/>
<line x1="393.10" y1="1149.08" x2="403.90" y2="1149.08" stroke="#000" stroke-width="2.0"/>
<line x1="416.60" y1="987.59" x2="416.60" y2="1161.96" stroke="#000" stroke-width="2.0"/>
<line x1="411.20" y1="989.09" x2="422.00" y2="989.09" stroke="#000" stroke-width="2.0"/>
<line x1="411.20" y1="1161.96" x2="422.00" y2="1161.96" stroke="#000" stroke-width="2.0"/>
<line x1="434.50" y1="935.51" x2="434.50" y2="1123.68" stroke="#000" stroke-width="2.0"/>
<line x1="429.10" y1="937.01" x2="439.90" y2="937.01" stroke="#000" stroke-width="2.0"/>
<line x1="429.10" y1="1123.68" x2="439.90" y2="1123.68" stroke="#000" stroke-width="2.0"/>
<line x1="452.40" y1="1097.39" x2="452.40" y2="1170.70" stroke="#000" stroke-width="2.0"/>
<line x1="447.00" y1="1098.89" x2="457.80" y2="1098.89" stroke="#000" stroke-width="2.0"/>
<line x1="447.00" y1="1170.70" x2="457.80" y2="1170.70" stroke="#000" stroke-width="2.0"/>
<line x1="472.20" y1="1129.72" x2="472.20" y2="1161.96" stroke="#000" stroke-width="2.0"/>
<line x1="466.80" y1="1131.22" x2="477.60" y2="1131.22" stroke="#000" stroke-width="2.0"/>
<line x1="466.80" y1="1161.96" x2="477.60" y2="1161.96" stroke="#000" stroke-width="2.0"/>
<line x1="490.30" y1="1170.79" x2="490.30" y2="1192.11" stroke="#000" stroke-width="2.0"/>
<line x1="484.90" y1="1172.29" x2="495.70" y2="1172.29" stroke="#000" stroke-width="2.0"/>
<line x1="484.90" y1="1192.11" x2="495.70" y2="1192.11" stroke="#000" stroke-width="2.0"/>
<line x1="547.80" y1="1132.88" x2="547.80" y2="1151.04" stroke="#000" stroke-width="2.0"/>
<line x1="542.40" y1="1134.38" x2="553.20" y2="1134.38" stroke="#000" stroke-width="2.0"/>
<line x1="542.40" y1="1151.04" x2="553.20" y2="1151.04" stroke="#000" stroke-width="2.0"/>
<line x1="565.90" y1="1126.17" x2="565.90" y2="1149.30" stroke="#000" stroke-width="2.0"/>
<line x1="560.50" y1="1127.67" x2="571.30" y2="1127.67" stroke="#000" stroke-width="2.0"/>
<line x1="560.50" y1="1149.30" x2="571.30" y2="1149.30" stroke="#000" stroke-width="2.0"/>
<line x1="585.70" y1="1122.18" x2="585.70" y2="1156.69" stroke="#000" stroke-width="2.0"/>
<line x1="580.30" y1="1123.68" x2="591.10" y2="1123.68" stroke="#000" stroke-width="2.0"/>
<line x1="580.30" y1="1156.69" x2="591.10" y2="1156.69" stroke="#000" stroke-width="2.0"/>
<line x1="603.60" y1="1178.10" x2="603.60" y2="1217.50" stroke="#000" stroke-width="2.0"/>
<line x1="598.20" y1="1179.60" x2="609.00" y2="1179.60" stroke="#000" stroke-width="2.0"/>
<line x1="598.20" y1="1217.50" x2="609.00" y2="1217.50" stroke="#000" stroke-width="2.0"/>
<line x1="621.20" y1="1185.03" x2="621.20" y2="1205.07" stroke="#000" stroke-width="2.0"/>
<line x1="615.80" y1="1186.53" x2="626.60" y2="1186.53" stroke="#000" stroke-width="2.0"/>
<line x1="615.80" y1="1205.07" x2="626.60" y2="1205.07" stroke="#000" stroke-width="2.0"/>
<line x1="640.30" y1="1185.26" x2="640.30" y2="1189.09" stroke="#000" stroke-width="2.0"/>
<line x1="634.90" y1="1186.76" x2="645.70" y2="1186.76" stroke="#000" stroke-width="2.0"/>
<line x1="634.90" y1="1189.09" x2="645.70" y2="1189.09" stroke="#000" stroke-width="2.0"/>
<text x="96.80" y="1168.00" font-size="18.5" text-anchor="middle" >b</text>
<text x="113.40" y="1052.60" font-size="18.5" text-anchor="middle" >ab</text>
<text x="134.00" y="912.00" font-size="18.5" text-anchor="middle" >a</text>
<text x="151.90" y="990.70" font-size="18.5" text-anchor="middle" >a</text>
<text x="170.50" y="934.40" font-size="18.5" text-anchor="middle" >a</text>
<text x="188.40" y="1132.00" font-size="18.5" text-anchor="middle" >ab</text>
<text x="246.80" y="1061.30" font-size="18.5" text-anchor="middle" >b</text>
<text x="265.40" y="941.30" font-size="18.5" text-anchor="middle" >a</text>
<text x="285.70" y="1043.50" font-size="18.5" text-anchor="middle" >b</text>
<text x="303.60" y="1101.70" font-size="18.5" text-anchor="middle" >bc</text>
<text x="321.00" y="1125.80" font-size="18.5" text-anchor="middle" >cd</text>
<text x="338.40" y="1171.80" font-size="18.5" text-anchor="middle" >d</text>
<text x="395.30" y="1099.30" font-size="18.5" text-anchor="middle" >a</text>
<text x="413.40" y="982.80" font-size="18.5" text-anchor="middle" >a</text>
<text x="434.00" y="931.40" font-size="18.5" text-anchor="middle" >a</text>
<text x="451.40" y="1090.60" font-size="18.5" text-anchor="middle" >a</text>
<text x="470.50" y="1127.80" font-size="18.5" text-anchor="middle" >a</text>
<text x="488.60" y="1168.30" font-size="18.5" text-anchor="middle" >a</text>
<text x="546.50" y="1128.80" font-size="18.5" text-anchor="middle" >a</text>
<text x="565.10" y="1123.80" font-size="18.5" text-anchor="middle" >a</text>
<text x="584.00" y="1121.30" font-size="18.5" text-anchor="middle" >a</text>
<text x="601.90" y="1175.70" font-size="18.5" text-anchor="middle" >b</text>
<text x="620.50" y="1183.20" font-size="18.5" text-anchor="middle" >b</text>
<text x="638.40" y="1175.20" font-size="18.5" text-anchor="middle" >b</text>
<line x1="69.30" y1="859.90" x2="69.30" y2="1243.20" stroke="#000" stroke-width="2.0"/>
<line x1="68.30" y1="1237.70" x2="668.80" y2="1237.70" stroke="#000" stroke-width="2.0"/>
<line x1="218.40" y1="1237.70" x2="218.40" y2="1243.20" stroke="#000" stroke-width="2.0"/>
<line x1="369.80" y1="1237.70" x2="369.80" y2="1243.20" stroke="#000" stroke-width="2.0"/>
<line x1="518.80" y1="1237.70" x2="518.80" y2="1243.20" stroke="#000" stroke-width="2.0"/>
<line x1="667.80" y1="1237.70" x2="667.80" y2="1243.20" stroke="#000" stroke-width="2.0"/>
<line x1="63.30" y1="1237.70" x2="69.30" y2="1237.70" stroke="#000" stroke-width="2.0"/>
<text x="53.90" y="1244.20" font-size="18.5" text-anchor="end" >0</text>
<line x1="63.30" y1="1200.02" x2="69.30" y2="1200.02" stroke="#000" stroke-width="2.0"/>
<text x="53.90" y="1206.52" font-size="18.5" text-anchor="end" >5</text>
<line x1="63.30" y1="1162.34" x2="69.30" y2="1162.34" stroke="#000" stroke-width="2.0"/>
<text x="53.90" y="1168.84" font-size="18.5" text-anchor="end" >10</text>
<line x1="63.30" y1="1124.66" x2="69.30" y2="1124.66" stroke="#000" stroke-width="2.0"/>
<text x="53.90" y="1131.16" font-size="18.5" text-anchor="end" >15</text>
<line x1="63.30" y1="1086.98" x2="69.30" y2="1086.98" stroke="#000" stroke-width="2.0"/>
<text x="53.90" y="1093.48" font-size="18.5" text-anchor="end" >20</text>
<line x1="63.30" y1="1049.30" x2="69.30" y2="1049.30" stroke="#000" stroke-width="2.0"/>
<text x="53.90" y="1055.80" font-size="18.5" text-anchor="end" >25</text>
<line x1="63.30" y1="1011.62" x2="69.30" y2="1011.62" stroke="#000" stroke-width="2.0"/>
<text x="53.90" y="1018.12" font-size="18.5" text-anchor="end" >30</text>
<line x1="63.30" y1="973.94" x2="69.30" y2="973.94" stroke="#000" stroke-width="2.0"/>
<text x="53.90" y="980.44" font-size="18.5" text-anchor="end" >35</text>
<line x1="63.30" y1="936.26" x2="69.30" y2="936.26" stroke="#000" stroke-width="2.0"/>
<text x="53.90" y="942.76" font-size="18.5" text-anchor="end" >40</text>
<line x1="63.30" y1="898.58" x2="69.30" y2="898.58" stroke="#000" stroke-width="2.0"/>
<text x="53.90" y="905.08" font-size="18.5" text-anchor="end" >45</text>
<line x1="63.30" y1="860.90" x2="69.30" y2="860.90" stroke="#000" stroke-width="2.0"/>
<text x="53.90" y="867.40" font-size="18.5" text-anchor="end" >50</text>
<text x="143.85" y="1265.00" font-size="18.8" text-anchor="middle" >Changins2014</text>
<text x="294.10" y="1265.00" font-size="18.8" text-anchor="middle" >Reckenholz2014</text>
<text x="444.30" y="1265.00" font-size="18.8" text-anchor="middle" >Vouvry2014</text>
<text x="593.30" y="1265.00" font-size="18.8" text-anchor="middle" >Reckenholz2015</text>
<path d="M70.20,902.50 V895.30 H215.20 V902.50" fill="none" stroke="#000" stroke-width="2"/>
<g transform="translate(208.20,888.20) skewX(-7)"><text x="0" y="0" font-size="19.5" text-anchor="middle" style='font-family:"Liberation Serif", serif'>α</text></g>
<path d="M220.00,902.50 V895.30 H366.40 V902.50" fill="none" stroke="#000" stroke-width="2"/>
<g transform="translate(356.20,891.40) skewX(-7)"><text x="0" y="0" font-size="19.5" text-anchor="middle" style='font-family:"Liberation Serif", serif'>α</text></g>
<path d="M371.20,902.50 V895.30 H515.70 V902.50" fill="none" stroke="#000" stroke-width="2"/>
<g transform="translate(506.90,892.40) skewX(-7)"><text x="0" y="0" font-size="19.5" text-anchor="middle" style='font-family:"Liberation Serif", serif'>α</text></g>
<path d="M524.40,1075.80 V1068.10 H668.90 V1075.80" fill="none" stroke="#000" stroke-width="2"/>
<g transform="translate(659.50,1060.90) skewX(0)"><text x="0" y="0" font-size="17.5" text-anchor="middle" style='font-family:"Liberation Serif", serif'>β</text></g>
<text x="80.00" y="879.50" font-size="32.5" text-anchor="start" >C</text>
<text transform="translate(14.9,195.5) rotate(-90)" font-size="18.1" text-anchor="middle"><tspan font-style="italic">Fusarium</tspan> colonized grains (%)</text>
<text transform="translate(21,615.7) rotate(-90)" font-size="18.5" text-anchor="middle">Reduction of TKW (%)</text>
<text transform="translate(14.5,1041.5) rotate(-90)" font-size="18.5" text-anchor="middle">DON content (mg.kg<tspan font-size="11" dy="-7">-1</tspan><tspan dy="7">)</tspan></text>
<text x="345.90" y="1313.00" font-size="20" text-anchor="middle" >Barley varieties</text>
<rect x="28.90" y="1360.8" width="11" height="12" fill="#e3e3e3"/>
<text x="44.20" y="1373.50" font-size="21.7" text-anchor="start" stroke="#000" stroke-width="0.35">Cassia</text>
<rect x="135.80" y="1360.8" width="11" height="12" fill="#a3a3a3"/>
<text x="151.80" y="1373.50" font-size="21.7" text-anchor="start" stroke="#000" stroke-width="0.35">Fridericus</text>
<rect x="270.50" y="1360.8" width="11" height="12" fill="#6e6e6e"/>
<text x="286.50" y="1373.50" font-size="21.7" text-anchor="start" stroke="#000" stroke-width="0.35">Hobbit</text>
<rect x="375.20" y="1360.8" width="11" height="12" fill="#424242"/>
<text x="390.50" y="1373.50" font-size="21.7" text-anchor="start" stroke="#000" stroke-width="0.35">Landi</text>
<rect x="467.50" y="1360.8" width="11" height="12" fill="#262626"/>
<text x="482.80" y="1373.50" font-size="21.7" text-anchor="start" stroke="#000" stroke-width="0.35">Semper</text>
<rect x="584.60" y="1360.8" width="11" height="12" fill="#0f0f0f"/>
<text x="598.30" y="1373.50" font-size="21.7" text-anchor="start" stroke="#000" stroke-width="0.35">Waxyma</text>
</svg></body></html>
